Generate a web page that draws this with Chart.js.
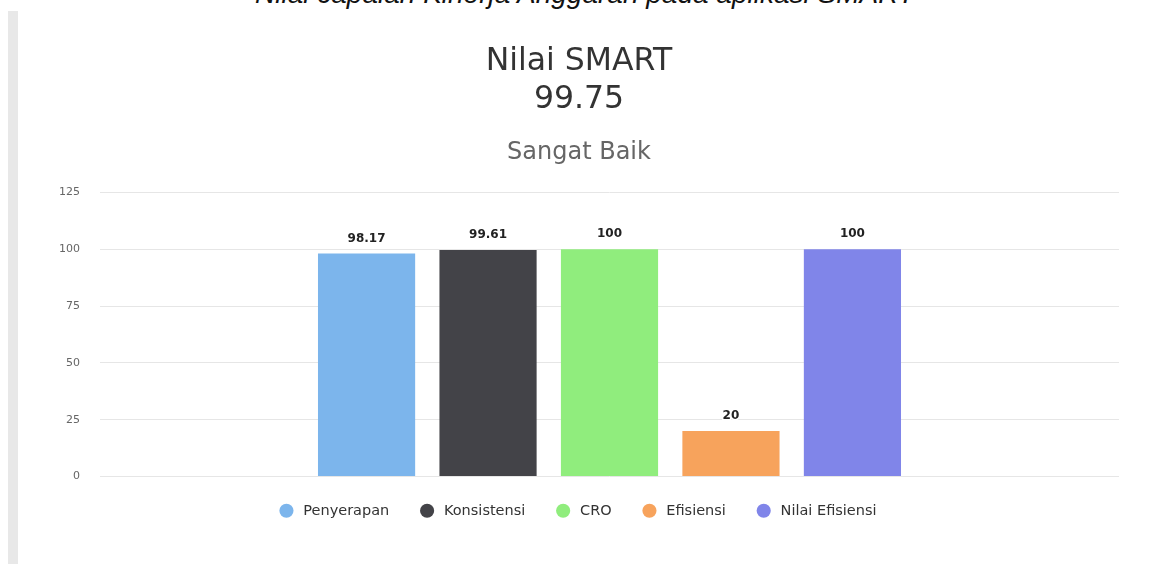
<!DOCTYPE html>
<html>
<head>
<meta charset="utf-8">
<script src="https://cdn.jsdelivr.net/npm/chart.js@4"></script>
<style>
  html, body { margin: 0; padding: 0; background: #fff; }
  #wrap { position: relative; width: 1151px; height: 564px; overflow: hidden; }
  #caption {
    position: absolute; left: 0; width: 1170px; top: -22px; text-align: center; line-height: 1;
    font: italic 28px "Liberation Sans", Arial, sans-serif; color: #111; white-space: nowrap;
  }
  #sidebar { position: absolute; left: 8px; top: 11px; width: 10px; height: 560px; background: #e8e8e8; }
  #chartBox { position: absolute; left: 0; top: 0; width: 1151px; height: 564px; }
</style>
</head>
<body>
<div id="wrap">
  <div id="caption">Nilai capaian Kinerja Anggaran pada aplikasi SMART</div>
  <div id="sidebar"></div>
  <div id="chartBox"><canvas id="c"></canvas></div>
</div>
<script>
// series names, values and colours
const seriesNames = ['Penyerapan', 'Konsistensi', 'CRO', 'Efisiensi', 'Nilai Efisiensi'];
const seriesValues = [98.17, 99.61, 100, 20, 100];
const seriesColors = ['#7cb5ec', '#434348', '#90ed7d', '#f7a35c', '#8085e9'];
const categories = [''];
const yTicks = [0, 25, 50, 75, 100, 125];

const titleLines = ['Nilai SMART', '99.75'];
const subtitleText = 'Sangat Baik';

// value labels above each bar
const barLabels = {
  id: 'barLabels',
  afterDatasetsDraw(chart) {
    const ctx = chart.ctx;
    ctx.save();
    ctx.font = 'bold 12px "DejaVu Sans", sans-serif';
    ctx.textAlign = 'center';
    ctx.textBaseline = 'bottom';
    chart.data.datasets.forEach((ds, i) => {
      const meta = chart.getDatasetMeta(i);
      meta.data.forEach((bar, j) => {
        ctx.lineWidth = 3;
        ctx.strokeStyle = '#fff';
        ctx.strokeText(ds.data[j], bar.x, bar.y - 9);
        ctx.fillStyle = '#222';
        ctx.fillText(ds.data[j], bar.x, bar.y - 9);
      });
    });
    ctx.restore();
  }
};

new Chart(document.getElementById('c'), {
  type: 'bar',
  data: {
    labels: categories,
    datasets: seriesNames.map((name, i) => ({
      label: name,
      data: [seriesValues[i]],
      backgroundColor: seriesColors[i],
      borderWidth: 0,
      categoryPercentage: 0.596,
      barPercentage: 0.8
    }))
  },
  options: {
    responsive: true,
    maintainAspectRatio: false,
    animation: false,
    layout: { padding: { left: 39, right: 32, top: 43, bottom: 36 } },
    plugins: {
      title: {
        display: true,
        text: titleLines,
        color: '#333',
        font: { family: '"DejaVu Sans", sans-serif', size: 31.5, weight: 'normal', lineHeight: 1.2 },
        padding: { top: 0, bottom: 20 }
      },
      subtitle: {
        display: true,
        text: subtitleText,
        color: '#666',
        font: { family: '"DejaVu Sans", sans-serif', size: 24, weight: 'normal' },
        padding: { top: 0, bottom: 25 }
      },
      legend: {
        position: 'bottom',
        labels: {
          usePointStyle: true,
          pointStyle: 'circle',
          boxWidth: 10,
          boxHeight: 10,
          padding: 19,
          color: '#333',
          font: { family: '"DejaVu Sans", sans-serif', size: 14.5 },
          generateLabels: chart => {
            const items = Chart.defaults.plugins.legend.labels.generateLabels(chart);
            items.forEach((it, i) => {
              it.text = ' ' + it.text + (i < items.length - 1 ? '   ' : '');
            });
            return items;
          }
        }
      },
      tooltip: { enabled: false }
    },
    scales: {
      x: {
        grid: { display: false },
        border: { display: false },
        ticks: { display: false }
      },
      y: {
        min: 0,
        max: 125,
        afterBuildTicks: axis => { axis.ticks = yTicks.map(v => ({ value: v })); },
        grid: { color: '#e6e6e6', drawTicks: false },
        border: { display: false },
        ticks: {
          padding: 20,
          color: '#666',
          font: { family: '"DejaVu Sans", sans-serif', size: 11 }
        }
      }
    }
  },
  plugins: [barLabels]
});
</script>
</body>
</html>
